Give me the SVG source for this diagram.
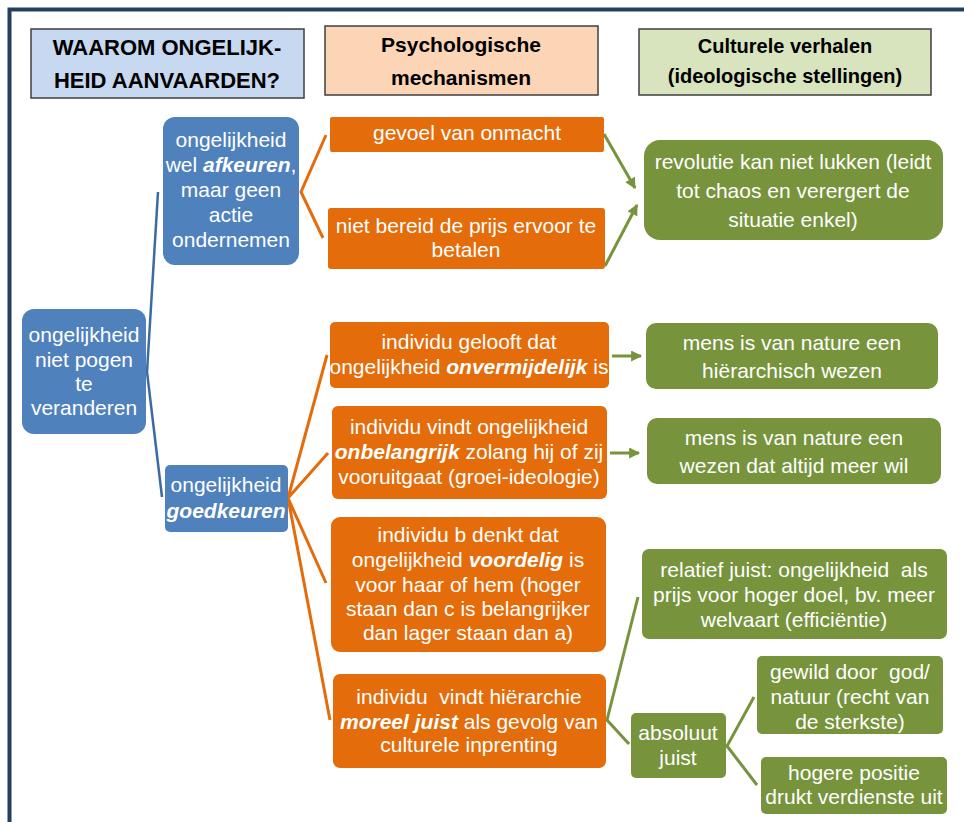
<svg xmlns="http://www.w3.org/2000/svg" width="964" height="822" viewBox="0 0 964 822">
<defs>
<style>
text{font-family:"Liberation Sans",Arial,sans-serif;font-size:21px;fill:#fff;text-anchor:middle}
.h{font-weight:bold;fill:#000}
.b{font-weight:bold;font-style:italic}
.blue{fill:#4f81bd}
.or{fill:#e46c0a}
.gr{fill:#77933c}
.hdr{stroke:#3f3f3f;stroke-width:1.5}
.cb{fill:none;stroke:#3c6aa3;stroke-width:2.5}
.co{fill:none;stroke:#e46c0a;stroke-width:3}
.cg{fill:none;stroke:#77933c;stroke-width:3}
</style>
<marker id="ah" viewBox="0 0 10 10" refX="9" refY="5" markerWidth="12" markerHeight="11" markerUnits="userSpaceOnUse" orient="auto">
<path d="M0,0 L10,5 L0,10 z" fill="#77933c"/>
</marker>
</defs>
<rect width="964" height="822" fill="#fff"/>
<path d="M970,9.5 H9.5 V830" fill="none" stroke="#243f60" stroke-width="4"/>

<g id="hdr1"><rect x="31" y="29" width="273" height="69" fill="#c6d9f1" class="hdr"/>
<text class="h" font-size="22" x="167" y="55" style="font-size:22px">WAAROM ONGELIJK-</text>
<text class="h" x="167" y="88" style="font-size:22px">HEID AANVAARDEN?</text></g>
<g id="hdr2"><rect x="325" y="26" width="273" height="69" fill="#fbd5b5" class="hdr"/>
<text class="h" x="461" y="52">Psychologische</text>
<text class="h" x="461" y="85">mechanismen</text></g>
<g id="hdr3"><rect x="639" y="29" width="292" height="66" fill="#d7e4bd" class="hdr"/>
<text class="h" x="785" y="53" style="font-size:20px">Culturele verhalen</text>
<text class="h" x="785" y="83" style="font-size:20px">(ideologische stellingen)</text></g>

<g id="connectors">
<path class="cb" d="M158,192 L147,372 L162,497"/>
<path class="co" d="M326,135 L301,192 L323,238"/>
<path class="co" d="M327,355 L288,498 L328,453 M326,583 L288,498 L330,720"/>
<path class="cg" d="M604,134 L635,188" marker-end="url(#ah)"/>
<path class="cg" d="M605,266 L637,205" marker-end="url(#ah)"/>
<path class="cg" d="M612,356 L641,356" marker-end="url(#ah)"/>
<path class="cg" d="M610,453 L639,453" marker-end="url(#ah)"/>
<path class="cg" d="M638,597 L607,720 L629,744"/>
<path class="cg" d="M754,697 L727,746 L757,785"/>
</g>

<g id="n1"><rect class="blue" x="22" y="309" width="124" height="125" rx="12"/>
<text x="84" y="342">ongelijkheid</text><text x="84" y="367">niet pogen</text><text x="84" y="391">te</text><text x="84" y="415">veranderen</text></g>
<g id="n2"><rect class="blue" x="163" y="117" width="136" height="148" rx="12"/>
<text x="231" y="147">ongelijkheid</text>
<text x="231" y="172">wel <tspan class="b">afkeuren</tspan>,</text>
<text x="231" y="197">maar geen</text><text x="231" y="222">actie</text><text x="231" y="247">ondernemen</text></g>
<g id="n3"><rect class="blue" x="165" y="465" width="123" height="67" rx="5"/>
<text x="226" y="492">ongelijkheid</text><text x="226" y="518" class="b">goedkeuren</text></g>

<g id="o1"><rect class="or" x="330" y="117" width="274" height="35" rx="2"/>
<text x="467" y="140">gevoel van onmacht</text></g>
<g id="o2"><rect class="or" x="328" y="208" width="277" height="61" rx="3"/>
<text x="466" y="233">niet bereid de prijs ervoor te</text><text x="466" y="257">betalen</text></g>
<g id="o3"><rect class="or" x="330" y="322" width="279" height="66" rx="5"/>
<text x="469" y="349">individu gelooft dat</text>
<text x="469" y="374">ongelijkheid <tspan class="b">onvermijdelijk</tspan> is</text></g>
<g id="o4"><rect class="or" x="332" y="406" width="275" height="93" rx="6"/>
<text x="469" y="434">individu vindt ongelijkheid</text>
<text x="469" y="459"><tspan class="b">onbelangrijk</tspan> zolang hij of zij</text>
<text x="469" y="484">vooruitgaat (groei-ideologie)</text></g>
<g id="o5"><rect class="or" x="331" y="517" width="275" height="135" rx="9"/>
<text x="468" y="542">individu b denkt dat</text>
<text x="468" y="567">ongelijkheid <tspan class="b">voordelig</tspan> is</text>
<text x="468" y="592">voor haar of hem (hoger</text>
<text x="468" y="616">staan dan c is belangrijker</text>
<text x="468" y="640">dan lager staan dan a)</text></g>
<g id="o6"><rect class="or" x="333" y="674" width="273" height="94" rx="7"/>
<text x="469" y="704" xml:space="preserve">individu  vindt hiërarchie</text>
<text x="469" y="729"><tspan class="b">moreel juist</tspan> als gevolg van</text>
<text x="469" y="752">culturele inprenting</text></g>

<g id="g1"><rect class="gr" x="644" y="140" width="299" height="100" rx="16"/>
<text x="793" y="169">revolutie kan niet lukken (leidt</text>
<text x="793" y="198">tot chaos en verergert de</text>
<text x="793" y="227">situatie enkel)</text></g>
<g id="g2"><rect class="gr" x="646" y="323" width="292" height="66" rx="10"/>
<text x="792" y="350">mens is van nature een</text><text x="792" y="378">hiërarchisch wezen</text></g>
<g id="g3"><rect class="gr" x="647" y="418" width="294" height="66" rx="10"/>
<text x="794" y="445">mens is van nature een</text><text x="794" y="473">wezen dat altijd meer wil</text></g>
<g id="g4"><rect class="gr" x="642" y="549" width="305" height="90" rx="7"/>
<text x="794" y="577" xml:space="preserve">relatief juist: ongelijkheid  als</text>
<text x="794" y="602">prijs voor hoger doel, bv. meer</text>
<text x="794" y="627">welvaart (efficiëntie)</text></g>
<g id="g5"><rect class="gr" x="631" y="713" width="95" height="65" rx="5"/>
<text x="678" y="740">absoluut</text><text x="678" y="765">juist</text></g>
<g id="g6"><rect class="gr" x="757" y="656" width="186" height="78" rx="5"/>
<text x="850" y="679" xml:space="preserve">gewild door  god/</text>
<text x="850" y="704">natuur (recht van</text><text x="850" y="729">de sterkste)</text></g>
<g id="g7"><rect class="gr" x="761" y="757" width="186" height="57" rx="5"/>
<text x="854" y="780">hogere positie</text><text x="854" y="804">drukt verdienste uit</text></g>
</svg>
